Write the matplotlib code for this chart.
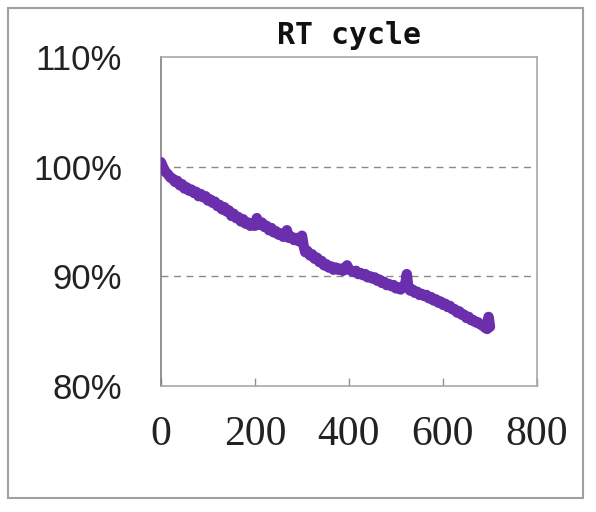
import matplotlib.pyplot as plt
from matplotlib.patches import Rectangle
from matplotlib.ticker import FuncFormatter

# cycle number vs capacity retention (%)
cycles = [0, 5, 10, 15, 20, 25, 30, 35, 40, 45, 50, 55, 60, 65, 70, 75, 80, 85,
          90, 95, 100, 105, 110, 115, 120, 125, 130, 135, 140, 145, 150, 155,
          160, 165, 170, 175, 180, 185, 190, 195, 200, 204, 208, 215, 220, 225,
          230, 235, 240, 245, 250, 255, 260, 265, 268, 272, 278, 283, 288, 293,
          297, 300, 303, 307, 312, 317, 322, 327, 332, 337, 342, 347, 352, 357,
          362, 367, 372, 377, 382, 387, 392, 396, 400, 405, 410, 415, 420, 425,
          430, 435, 440, 445, 450, 455, 460, 465, 470, 475, 480, 485, 490, 495,
          500, 505, 510, 515, 520, 523, 526, 530, 535, 540, 545, 550, 555, 560,
          565, 570, 575, 580, 585, 590, 595, 600, 605, 610, 615, 620, 625, 630,
          635, 640, 645, 650, 655, 660, 665, 670, 675, 680, 685, 690, 694, 697,
          700]
retention = [100.4, 99.9, 99.5, 99.3, 99.0, 98.9, 98.6, 98.7, 98.3, 98.4,
             98.0, 98.1, 97.8, 97.9, 97.6, 97.7, 97.3, 97.5, 97.2, 97.3,
             96.9, 97.0, 96.7, 96.8, 96.4, 96.5, 96.1, 96.3, 95.9, 96.0,
             95.5, 95.7, 95.3, 95.4, 95.0, 95.2, 94.8, 94.9, 94.6, 94.8,
             94.6, 95.3, 94.7, 94.9, 94.5, 94.6, 94.2, 94.4, 94.0, 94.1,
             93.8, 93.9, 93.6, 93.8, 94.2, 93.5, 93.6, 93.3, 93.5, 93.2,
             93.4, 93.7, 92.9, 92.2, 92.3, 91.9, 92.0, 91.6, 91.7, 91.3,
             91.4, 91.0, 91.1, 90.8, 90.9, 90.6, 90.8, 90.6, 90.7, 90.5,
             90.8, 91.0, 90.6, 90.5, 90.4, 90.5, 90.2, 90.3, 90.1, 90.2,
             89.9, 90.0, 89.8, 89.9, 89.6, 89.7, 89.4, 89.5, 89.2, 89.3,
             89.1, 89.2, 88.9, 89.0, 88.8, 89.0, 89.3, 90.2, 89.1, 88.7,
             88.8, 88.5, 88.6, 88.3, 88.4, 88.2, 88.3, 88.0, 88.1, 87.8,
             87.9, 87.6, 87.7, 87.4, 87.5, 87.2, 87.3, 87.0, 87.0, 86.7,
             86.8, 86.5, 86.5, 86.2, 86.3, 86.0, 86.0, 85.8, 85.8, 85.6,
             85.5, 85.3, 85.2, 86.3, 85.4]

title = 'RT cycle'
x_ticks = [0, 200, 400, 600, 800]
y_ticks = [80, 90, 100, 110]

fig = plt.figure(figsize=(5.96, 5.12), dpi=100)
fig.patch.set_facecolor('white')

# outer frame around the whole chart
fig.patches.append(Rectangle((0.0134, 0.027), 0.965, 0.957, transform=fig.transFigure,
                             fill=False, edgecolor='#a0a0a0', linewidth=1.5))

ax = fig.add_axes([0.270, 0.246, 0.631, 0.643])

for y in [90, 100]:
    ax.axhline(y, color='#8a8a8a', linewidth=1.0, linestyle=(0, (5, 4)), zorder=1)

ax.plot(cycles, retention, color='#6B2FAE', linewidth=7.5, solid_joinstyle='round',
        solid_capstyle='round', zorder=3)

ax.set_xlim(0, 800)
ax.set_ylim(80, 110)
ax.set_xticks(x_ticks)
ax.set_yticks(y_ticks)
ax.yaxis.set_major_formatter(FuncFormatter(lambda v, p: f'{v:.0f}%'))

for side in ['top', 'right', 'bottom']:
    ax.spines[side].set_color('#a8a8a8')
ax.spines['left'].set_color('#808080')
for s in ax.spines.values():
    s.set_linewidth(1.2)

ax.tick_params(axis='x', direction='in', length=6, width=1, color='#909090', pad=21,
               labelsize=30, labelcolor='#222222', labelfontfamily='Liberation Serif')
ax.tick_params(axis='y', length=0, pad=28,
               labelsize=25, labelcolor='#222222', labelfontfamily='Liberation Sans')

ax.set_title(title, fontsize=21.5, fontweight='bold', pad=9, color='#111111',
             fontfamily='DejaVu Sans Mono')

fig.savefig('out.png', dpi=100)
